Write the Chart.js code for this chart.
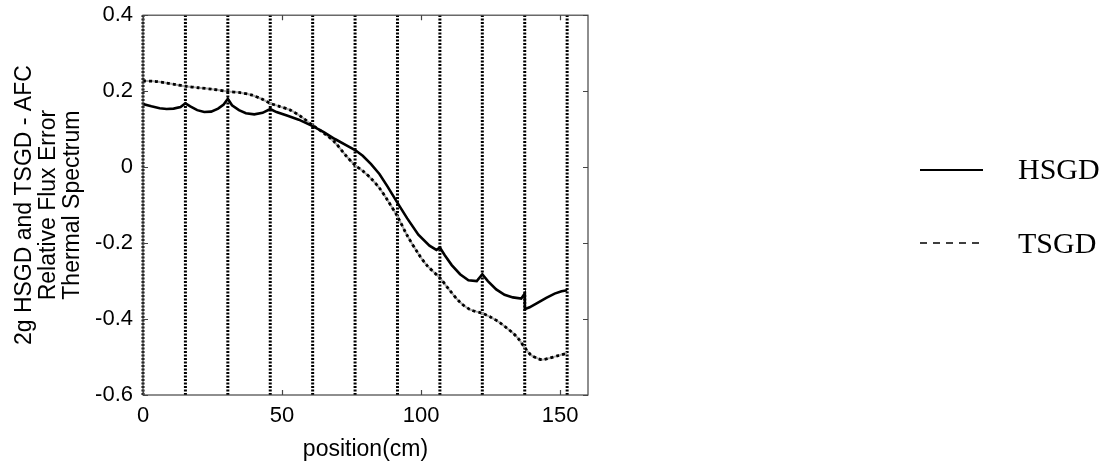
<!DOCTYPE html>
<html>
<head>
<meta charset="utf-8">
<script src="https://cdn.jsdelivr.net/npm/chart.js@4"></script>
<style>
  html, body { margin: 0; padding: 0; background: #fff; }
</style>
</head>
<body>
<canvas id="fluxChart" width="1110" height="465"></canvas>
<script>
// HSGD - AFC relative flux error (solid curve), position in cm
var hsgdPos = [0, 3, 6, 8.5, 11, 13.5, 15.25, 17, 19.5, 22, 24.5, 27, 29, 30.5,
  32, 34.5, 37, 40, 43, 45.75, 48, 52, 56, 61, 65, 69, 73, 76.25,
  79, 82, 85, 88, 91.5, 95, 99, 103, 105.5, 106.75, 108.5, 111, 114, 117, 120, 122,
  124, 127, 130, 133, 136, 137.25, 137.3, 139, 141.7, 145, 148, 150.5, 152.5];
var hsgdErr = [0.166, 0.160, 0.155, 0.153, 0.154, 0.158, 0.168, 0.160, 0.150, 0.145, 0.146, 0.154, 0.165, 0.180,
  0.163, 0.150, 0.142, 0.139, 0.143, 0.153, 0.145, 0.135, 0.125, 0.108, 0.092, 0.074, 0.058, 0.045,
  0.030, 0.008, -0.018, -0.052, -0.094, -0.135, -0.178, -0.207, -0.218, -0.212, -0.232, -0.258, -0.282, -0.298, -0.300, -0.282,
  -0.300, -0.322, -0.336, -0.343, -0.346, -0.333, -0.374, -0.369, -0.358, -0.344, -0.333, -0.327, -0.324];

// TSGD - AFC relative flux error (dotted curve)
var tsgdPos = [0, 4, 8, 12, 15.25, 20, 25, 30.5, 35, 39, 42.5, 45.75, 49, 53, 57,
  61, 65, 69, 73, 76.25, 79, 82, 85, 88, 91.5, 95, 99, 102, 106.75, 110,
  114, 117.6, 122, 125, 128.4, 131, 133, 135, 137.25, 139.5, 141.7, 143.5, 146, 149, 152.5];
var tsgdErr = [0.227, 0.226, 0.222, 0.217, 0.213, 0.209, 0.205, 0.199, 0.196, 0.190, 0.180, 0.168, 0.160, 0.150, 0.132,
  0.110, 0.090, 0.065, 0.030, 0.005, -0.010, -0.030, -0.055, -0.088, -0.130, -0.180, -0.228, -0.258, -0.292, -0.322,
  -0.356, -0.375, -0.385, -0.395, -0.410, -0.425, -0.437, -0.452, -0.475, -0.495, -0.503, -0.507, -0.503, -0.497, -0.490];

// assembly boundaries drawn as dotted verticals
var boundaries = [0, 15.25, 30.5, 45.75, 61, 76.25, 91.5, 106.75, 122, 137.25, 152.5];

var xTicks = [0, 50, 100, 150];
var yTicks = [-0.6, -0.4, -0.2, 0, 0.2, 0.4];
var yTickLabels = ['-0.6', '-0.4', '-0.2', '0', '0.2', '0.4'];

function toPoints(xs, ys) {
  return xs.map(function (x, i) { return { x: x, y: ys[i] }; });
}

var datasets = [
  {
    label: 'HSGD',
    data: toPoints(hsgdPos, hsgdErr),
    borderColor: '#000',
    borderWidth: 2.6,
    pointRadius: 0,
    tension: 0
  },
  {
    label: 'TSGD',
    data: toPoints(tsgdPos, tsgdErr),
    borderColor: '#000',
    borderWidth: 2.8,
    borderDash: [3, 3],
    pointRadius: 0,
    tension: 0.3
  },
  {
    label: 'TSGD base',
    data: toPoints(tsgdPos, tsgdErr),
    borderColor: '#aaa',
    borderWidth: 2,
    pointRadius: 0,
    tension: 0.3
  }
];

boundaries.forEach(function (b) {
  datasets.push({
    label: 'boundary',
    data: [{ x: b, y: yTicks[0] }, { x: b, y: yTicks[yTicks.length - 1] }],
    borderColor: '#000',
    borderWidth: 3,
    borderDash: [2, 1.5],
    pointRadius: 0,
    clip: false
  });
});

// box, inward ticks and the legend on the right
var framePlugin = {
  id: 'frame',
  afterDraw: function (chart) {
    var ctx = chart.ctx;
    var a = chart.chartArea;
    var xs = chart.scales.x, ys = chart.scales.y;
    ctx.save();
    ctx.strokeStyle = '#444';
    ctx.lineWidth = 1.2;
    ctx.strokeRect(a.left, a.top, a.right - a.left, a.bottom - a.top);
    ctx.beginPath();
    xTicks.forEach(function (v) {
      var px = Math.round(xs.getPixelForValue(v)) + 0.5;
      ctx.moveTo(px, a.bottom); ctx.lineTo(px, a.bottom - 5);
      ctx.moveTo(px, a.top); ctx.lineTo(px, a.top + 5);
    });
    yTicks.forEach(function (v) {
      var py = Math.round(ys.getPixelForValue(v)) + 0.5;
      ctx.moveTo(a.left, py); ctx.lineTo(a.left + 5, py);
      ctx.moveTo(a.right, py); ctx.lineTo(a.right - 5, py);
    });
    ctx.stroke();

    // legend
    ctx.strokeStyle = '#000';
    ctx.lineWidth = 2;
    ctx.beginPath();
    ctx.moveTo(920, 170); ctx.lineTo(983, 170);
    ctx.stroke();
    ctx.lineWidth = 1.6;
    ctx.setLineDash([7, 6]);
    ctx.beginPath();
    ctx.moveTo(920, 243); ctx.lineTo(985, 243);
    ctx.stroke();
    ctx.setLineDash([]);
    ctx.fillStyle = '#000';
    ctx.font = '30px "Liberation Serif"';
    ctx.textBaseline = 'alphabetic';
    ctx.fillText('HSGD', 1018, 179);
    ctx.fillText('TSGD', 1018, 253);
    ctx.restore();
  }
};

Chart.defaults.color = '#000';
Chart.defaults.font.family = '"Liberation Sans", Arial, sans-serif';

new Chart(document.getElementById('fluxChart').getContext('2d'), {
  type: 'line',
  data: { datasets: datasets },
  options: {
    responsive: false,
    animation: false,
    layout: { padding: { top: 15, right: 522, bottom: 0, left: 0 } },
    plugins: {
      legend: { display: false },
      tooltip: { enabled: false }
    },
    scales: {
      x: {
        type: 'linear',
        min: 0,
        max: 160,
        grid: { display: false },
        border: { display: false },
        afterBuildTicks: function (s) { s.ticks = xTicks.map(function (v) { return { value: v }; }); },
        afterFit: function (s) { s.height = 70; },
        ticks: { font: { size: 22 }, padding: 0, maxRotation: 0 },
        title: {
          display: true,
          text: 'position(cm)',
          font: { size: 23 },
          padding: { top: 0, bottom: 2 }
        }
      },
      y: {
        type: 'linear',
        min: -0.6,
        max: 0.4,
        grid: { display: false },
        border: { display: false },
        afterBuildTicks: function (s) { s.ticks = yTicks.map(function (v) { return { value: v }; }); },
        afterFit: function (s) { s.width = 143; },
        ticks: {
          font: { size: 22 },
          padding: 2,
          callback: function (v) { return yTickLabels[yTicks.indexOf(v)]; }
        },
        title: {
          display: true,
          text: ['2g HSGD and TSGD - AFC', 'Relative Flux Error', 'Thermal Spectrum'],
          font: { size: 23, lineHeight: 1.06 },
          padding: { top: 12, bottom: 0 }
        }
      }
    }
  },
  plugins: [framePlugin]
});
</script>
</body>
</html>
